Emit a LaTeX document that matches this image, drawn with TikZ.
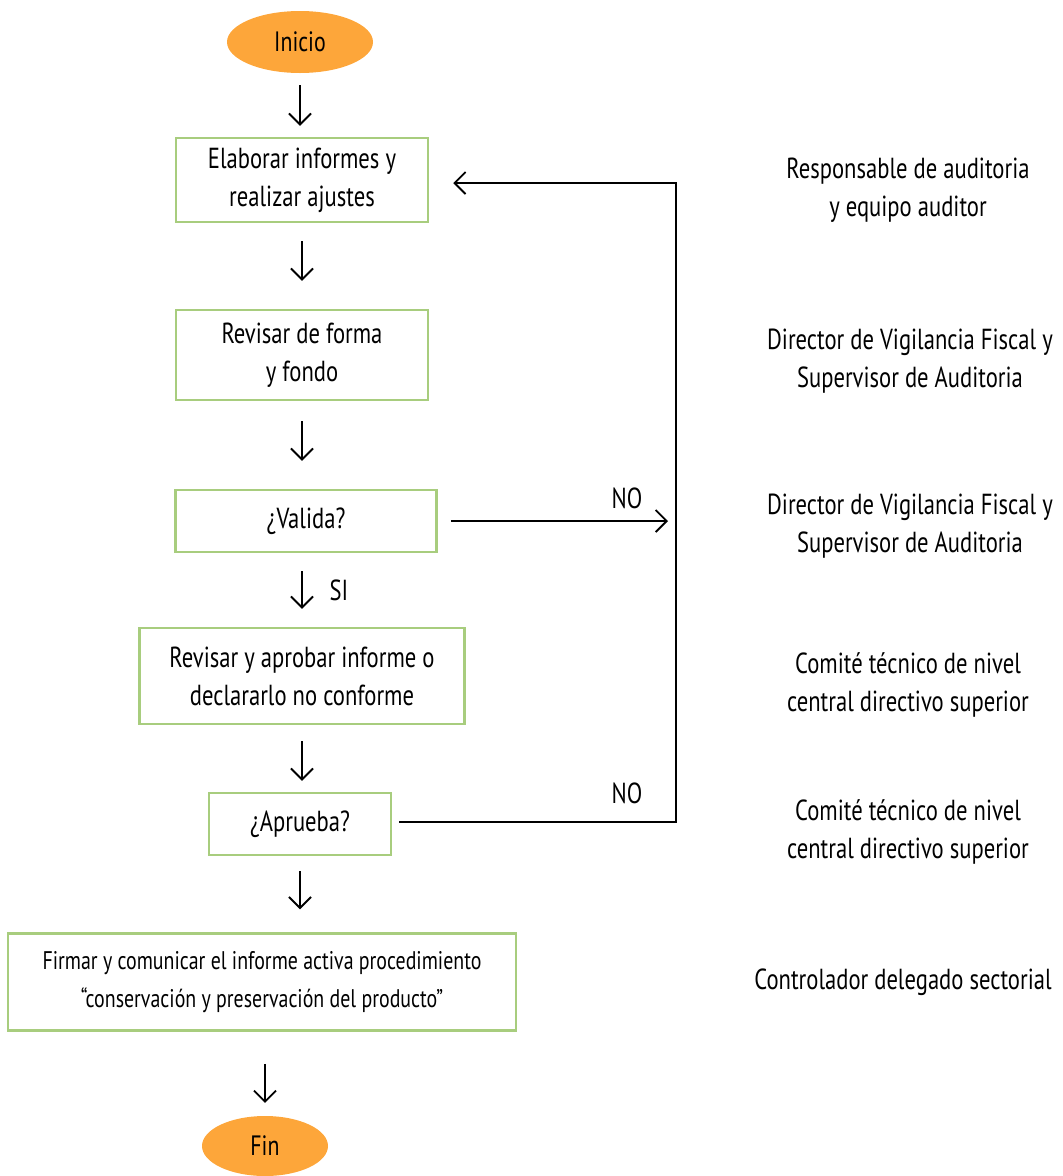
\documentclass[tikz,border=0pt]{standalone}
\usepackage{fontspec}
\setmainfont{PT Sans}[FakeStretch=0.78]
\usetikzlibrary{arrows.meta, shapes.geometric}
\definecolor{naranja}{HTML}{FDA63A}
\definecolor{verde}{HTML}{A8CD7E}

\begin{document}
\begin{tikzpicture}[x=1pt, y=-1pt]
  \useasboundingbox (0, 0) rectangle (1063, 1176);  % Marco fijo.
  \tikzstyle{caja}=[draw=verde, line width=2.5pt, fill=white, align=center, inner sep=0pt, font=\fontsize{29}{38}\selectfont]
  \tikzstyle{elipse}=[ellipse, fill=naranja, inner sep=0pt, font=\fontsize{28}{38}\selectfont]
  \tikzstyle{texto}=[align=center, font=\fontsize{29}{38}\selectfont]
  \tikzstyle{flecha}=[line width=1.8pt, -{Straight Barb[length=11pt, width=22pt, line width=1.8pt]}]

  \node[elipse, minimum width=146pt, minimum height=62pt] (inicio) at (300, 42) {Inicio};
  \node[caja, minimum width=252pt, minimum height=84pt] (elab) at (302, 180) {Elaborar informes y\\realizar ajustes};
  \node[caja, minimum width=252pt, minimum height=90pt] (revisar) at (302, 355) {Revisar de forma\\y fondo};
  \node[caja, minimum width=261pt, minimum height=62pt] (valida) at (306, 521) {¿Valida?};
  \node[caja, minimum width=325pt, minimum height=96pt] (aprobar) at (302, 676) {Revisar y aprobar informe o\\declararlo no conforme};
  \node[caja, minimum width=182pt, minimum height=62pt] (aprueba) at (300, 824) {¿Aprueba?};
  \node[caja, minimum width=508pt, minimum height=97pt, font=\fontsize{25.5}{38}\selectfont] (firmar) at (262, 982) {Firmar y comunicar el informe activa procedimiento\\“conservación y preservación del producto”};
  \node[elipse, minimum width=126pt, minimum height=60pt] (fin) at (265, 1146) {Fin};

  \node[texto] (r1) at (908, 190) {Responsable de auditoria\\y equipo auditor};
  \node[texto] (r2) at (910, 361) {Director de Vigilancia Fiscal y\\Supervisor de Auditoria};
  \node[texto] (r3) at (910, 526) {Director de Vigilancia Fiscal y\\Supervisor de Auditoria};
  \node[texto] (r4) at (908, 685) {Comité técnico de nivel\\central directivo superior};
  \node[texto] (r5) at (908, 832) {Comité técnico de nivel\\central directivo superior};
  \node[texto] (r6) at (903, 982) {Controlador delegado sectorial};

  \coordinate (esq1) at (676, 822);
  \coordinate (esq2) at (676, 183);

  \draw[flecha, shorten <=12pt, shorten >=11pt] (inicio) -- (inicio |- elab.north);
  \draw[flecha, shorten <=18pt, shorten >=28pt] (elab) -- (elab |- revisar.north);
  \draw[flecha, shorten <=20pt, shorten >=28pt] (revisar) -- (revisar |- valida.north);
  \draw[flecha, shorten <=18pt, shorten >=18pt] (valida.south -| revisar) -- (revisar |- aprobar.north);
  \draw[flecha, shorten <=16pt, shorten >=11pt] (aprobar) -- (aprobar |- aprueba.north);
  \draw[flecha, shorten <=15pt, shorten >=23pt] (aprueba) -- (aprueba |- firmar.north);
  \draw[flecha, shorten <=32pt, shorten >=13pt] (fin |- firmar.south) -- (fin);

  \draw[flecha, shorten <=13pt, shorten >=8pt] (valida.east) -- (valida.east -| esq2);
  \draw[flecha, shorten <=7pt, shorten >=24pt] (aprueba.east |- esq1) -- (esq1) -- (esq2) -- (elab.east |- esq2);

  \node[texto] (no1) at (627, 498) {NO};
  \node[texto] (si) at (339, 590) {SI};
  \node[texto] (no2) at (627, 793) {NO};
\end{tikzpicture}
\end{document}
